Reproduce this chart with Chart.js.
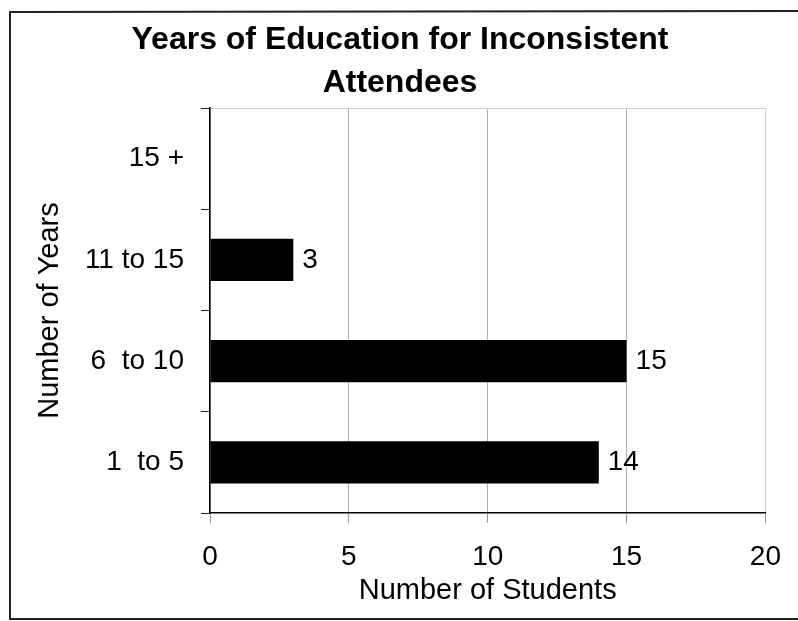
<!DOCTYPE html>
<html>
<head>
<meta charset="utf-8">
<script src="https://cdn.jsdelivr.net/npm/chart.js@4/dist/chart.umd.min.js"></script>
<style>
  html, body { margin: 0; padding: 0; background: #fff; }
  #wrap { width: 798px; height: 621px; position: relative; }
</style>
</head>
<body>
<div id="wrap"><canvas id="chartYears"></canvas></div>
<script>
// data, top to bottom as in the picture
const categories = ['15 +', '11 to 15', '6  to 10', '1  to 5'];
const students = [0, 3, 15, 14];
const xTicks = [0, 5, 10, 15, 20];

const titleText = ['Years of Education for Inconsistent', 'Attendees'];
const xTitle = 'Number of Students';
const yTitle = 'Number of Years';

Chart.defaults.font.family = 'Arial, "Liberation Sans", sans-serif';
Chart.defaults.color = '#000';

// page frame from the scan
const framePlugin = {
	id: 'frame',
	beforeDraw: function(chart){
		const c = chart.ctx;
		c.save();
		c.fillStyle = '#fff';
		c.fillRect(0, 0, chart.width, chart.height);
		c.strokeStyle = '#222';
		c.lineWidth = 2;
		c.beginPath();
		c.moveTo(800, 11); c.lineTo(10, 12);
		c.lineTo(10, 619); c.lineTo(800, 619);
		c.stroke();
		c.restore();
	}
};

// value labels at the end of each bar
const valueLabels = {
	id: 'valueLabels',
	afterDatasetsDraw: function(chart){
		const c = chart.ctx;
		const meta = chart.getDatasetMeta(0);
		c.save();
		c.font = '28px Arial, "Liberation Sans", sans-serif';
		c.fillStyle = '#000';
		c.textAlign = 'left';
		c.textBaseline = 'middle';
		meta.data.forEach(function(bar, i){
			if (students[i] > 0) c.fillText(String(students[i]), bar.x + 9, bar.y);
		});
		c.restore();
	}
};

const ctx = document.getElementById('chartYears').getContext('2d');

var chartYears = new Chart(ctx, {
	type: 'bar',
	data: {
		labels: categories,
		datasets: [
			{
				label: 'Students',
				data: students,
				backgroundColor: '#000',
				borderWidth: 0,
				barPercentage: 0.415,
				categoryPercentage: 1
			}
		]
	},
	options: {
		indexAxis: 'y',
		responsive: true,
		maintainAspectRatio: false,
		animation: false,
		layout: { padding: { left: 33, right: 31, top: 0, bottom: 0 } },
		plugins: {
			legend: { display: false },
			tooltip: { enabled: false },
			title: {
				display: true,
				text: titleText,
				font: { size: 32, weight: 'bold', lineHeight: '43px' },
				color: '#000',
				padding: { top: 19, bottom: 3 }
			}
		},
		scales: {
			x: {
				min: 0,
				max: 20,
				afterBuildTicks: function(scale){
					scale.ticks = xTicks.map(function(v){ return { value: v }; });
				},
				afterFit: function(scale){ scale.height = 108; },
				border: { display: true, color: '#000', width: 1.5 },
				grid: {
					display: true,
					drawOnChartArea: true,
					drawTicks: true,
					tickLength: 10,
					color: function(context){
						if (context.tick && context.tick.value === 20) return '#d4d4d4';
						return '#b0b0b0';
					},
					tickColor: '#999'
				},
				ticks: {
					font: { size: 28 },
					color: '#000',
					padding: 17,
					maxRotation: 0
				},
				title: {
					display: true,
					text: xTitle,
					font: { size: 29 },
					color: '#000',
					padding: { top: 0, bottom: 13 }
				}
			},
			y: {
				afterFit: function(scale){ scale.width = 177; },
				border: { display: true, color: '#000', width: 1.5 },
				grid: {
					display: true,
					offset: true,
					drawOnChartArea: true,
					drawTicks: true,
					tickLength: 9,
					color: function(context){
						if (context.index === 0) return '#d0d0d0';
						return 'rgba(0,0,0,0)';
					},
					tickColor: '#222'
				},
				ticks: {
					font: { size: 28 },
					color: '#000',
					padding: 17
				},
				title: {
					display: true,
					text: yTitle,
					font: { size: 29 },
					color: '#000',
					padding: { top: 0, bottom: 0 }
				}
			}
		}
	},
	plugins: [framePlugin, valueLabels]
});
</script>
</body>
</html>
